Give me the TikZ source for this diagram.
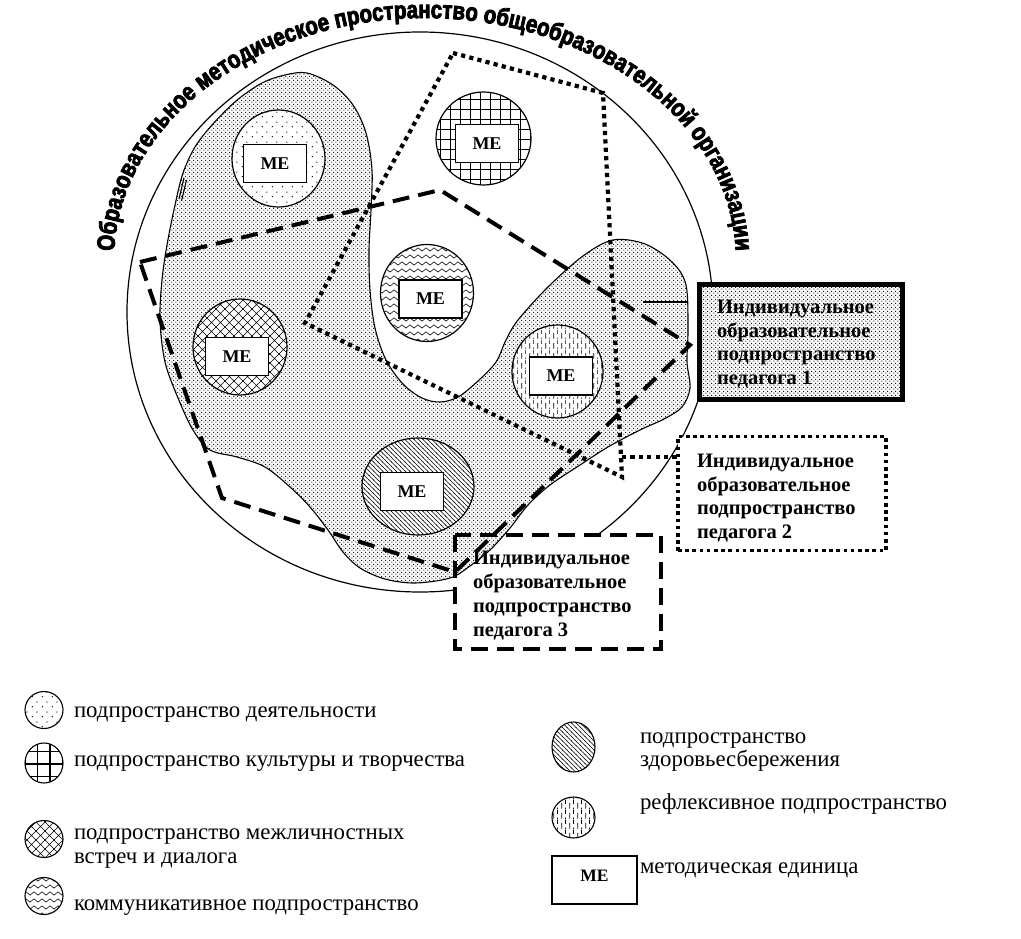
\documentclass[tikz,border=0pt]{standalone}
\usepackage{fontspec}
\setmainfont{Liberation Serif}
\newfontfamily\arcfont{Liberation Sans Bold}[FakeStretch=0.82,FakeBold=3.2]
\usetikzlibrary{patterns,shapes.geometric,decorations.text}

\pgfdeclarepatternformonly{blobdots}{\pgfqpoint{0pt}{0pt}}{\pgfqpoint{4.2pt}{4.2pt}}{\pgfqpoint{4.2pt}{4.2pt}}{%
  \pgfpathcircle{\pgfqpoint{1.05pt}{1.05pt}}{0.75pt}%
  \pgfpathcircle{\pgfqpoint{3.15pt}{3.15pt}}{0.75pt}%
  \pgfusepath{fill}}
\pgfdeclarepatternformonly{sparsedots}{\pgfqpoint{0pt}{0pt}}{\pgfqpoint{10pt}{10pt}}{\pgfqpoint{10pt}{10pt}}{%
  \pgfpathcircle{\pgfqpoint{2.5pt}{2.5pt}}{0.75pt}%
  \pgfpathcircle{\pgfqpoint{7.5pt}{7.5pt}}{0.75pt}%
  \pgfusepath{fill}}
\pgfdeclarepatternformonly{biggrid}{\pgfqpoint{-0.5pt}{-0.5pt}}{\pgfqpoint{10.5pt}{10.5pt}}{\pgfqpoint{10pt}{10pt}}{%
  \pgfsetlinewidth{0.7pt}%
  \pgfpathmoveto{\pgfqpoint{-0.5pt}{0pt}}\pgfpathlineto{\pgfqpoint{10.5pt}{0pt}}%
  \pgfpathmoveto{\pgfqpoint{0pt}{-0.5pt}}\pgfpathlineto{\pgfqpoint{0pt}{10.5pt}}%
  \pgfusepath{stroke}}
\pgfdeclarepatternformonly{legrid}{\pgfqpoint{-1pt}{-1pt}}{\pgfqpoint{13.5pt}{13.5pt}}{\pgfqpoint{12.5pt}{12.5pt}}{%
  \pgfsetlinewidth{1.1pt}%
  \pgfpathmoveto{\pgfqpoint{-1pt}{0pt}}\pgfpathlineto{\pgfqpoint{13.5pt}{0pt}}%
  \pgfpathmoveto{\pgfqpoint{0pt}{-1pt}}\pgfpathlineto{\pgfqpoint{0pt}{13.5pt}}%
  \pgfusepath{stroke}}
\pgfdeclarepatternformonly{xhatch}{\pgfqpoint{-0.5pt}{-0.5pt}}{\pgfqpoint{9.5pt}{9.5pt}}{\pgfqpoint{9pt}{9pt}}{%
  \pgfsetlinewidth{0.6pt}%
  \pgfpathmoveto{\pgfqpoint{-0.5pt}{-0.5pt}}\pgfpathlineto{\pgfqpoint{9.5pt}{9.5pt}}%
  \pgfpathmoveto{\pgfqpoint{-0.5pt}{9.5pt}}\pgfpathlineto{\pgfqpoint{9.5pt}{-0.5pt}}%
  \pgfusepath{stroke}}
\pgfdeclarepatternformonly{nwlines}{\pgfqpoint{-0.5pt}{-0.5pt}}{\pgfqpoint{5pt}{5pt}}{\pgfqpoint{4.5pt}{4.5pt}}{%
  \pgfsetlinewidth{0.55pt}%
  \pgfpathmoveto{\pgfqpoint{-0.5pt}{5pt}}\pgfpathlineto{\pgfqpoint{5pt}{-0.5pt}}%
  \pgfusepath{stroke}}
\pgfdeclarepatternformonly{vdashes}{\pgfqpoint{0pt}{0pt}}{\pgfqpoint{8pt}{10pt}}{\pgfqpoint{8pt}{10pt}}{%
  \pgfsetlinewidth{0.7pt}%
  \pgfpathmoveto{\pgfqpoint{2pt}{0.5pt}}\pgfpathlineto{\pgfqpoint{2pt}{6.5pt}}%
  \pgfpathmoveto{\pgfqpoint{6pt}{5.5pt}}\pgfpathlineto{\pgfqpoint{6pt}{10pt}}%
  \pgfpathmoveto{\pgfqpoint{6pt}{0pt}}\pgfpathlineto{\pgfqpoint{6pt}{1.5pt}}%
  \pgfusepath{stroke}}
\pgfdeclarepatternformonly{wavy}{\pgfqpoint{-0.5pt}{0pt}}{\pgfqpoint{8.5pt}{7pt}}{\pgfqpoint{8pt}{7pt}}{%
  \pgfsetlinewidth{0.6pt}%
  \pgfpathmoveto{\pgfqpoint{0pt}{3.5pt}}%
  \pgfpathcurveto{\pgfqpoint{1pt}{5.6pt}}{\pgfqpoint{3pt}{5.6pt}}{\pgfqpoint{4pt}{3.5pt}}%
  \pgfpathcurveto{\pgfqpoint{5pt}{1.4pt}}{\pgfqpoint{7pt}{1.4pt}}{\pgfqpoint{8pt}{3.5pt}}%
  \pgfusepath{stroke}}

\begin{document}
\begin{tikzpicture}[x=1pt,y=-1pt,
  every node/.style={inner sep=0pt, outer sep=0pt},
  bigoval/.style={ellipse, draw, line width=1.2pt, minimum width=586pt, minimum height=560pt},
  sub/.style={ellipse, draw, line width=1.2pt, preaction={fill=white}},
  mebox/.style={rectangle, draw, line width=1.2pt, fill=white, minimum width=63pt, minimum height=38pt, font=\bfseries\fontsize{18}{18}\selectfont},
  dashline/.style={line width=4pt, dash pattern=on 17pt off 9pt},
  dotline/.style={line width=4.2pt, dash pattern=on 4.2pt off 4.2pt},
  boxtxt/.style={anchor=base west, font=\bfseries\fontsize{20.5}{20.5}\selectfont},
  legtxt/.style={anchor=base west, font=\fontsize{22.8}{22.8}\selectfont},
  legcirc/.style={ellipse, draw, line width=1.1pt, minimum width=38pt, minimum height=37pt, preaction={fill=white}},
]
\useasboundingbox (0,0) rectangle (1021,939);
\fill[white] (0,0) rectangle (1021,939);

% outer space
\node[bigoval] (org) at (420,312) {};
\node[fill=white, minimum width=206pt, minimum height=114pt] (b3) at (558,592) {};

% shaded subspace of teacher 1
\draw[line width=1.1pt, pattern=blobdots] plot[smooth cycle, tension=0.55] coordinates {
 (307,73) (333,85) (353,105) (366,133) (372,170) (371,210) (369,250) (370,290)
 (375,328) (386,360) (403,384) (422,398) (440,402) (458,397) (478,381) (496,362)
 (506,340) (518,320) (548,287) (583,256) (613,240) (645,244) (672,262) (686,285)
 (688,330) (687,362) (690,388) (682,407) (664,419) (640,430) (608,447) (580,465)
 (550,485) (528,505) (510,528) (490,550) (470,566) (450,578) (415,583) (385,579)
 (360,568) (343,552) (328,530) (310,507) (290,487) (265,467) (237,457) (210,450)
 (193,430) (178,398) (165,362) (160,320) (162,280) (167,245) (175,205) (183,173)
 (195,147) (212,125) (236,101) (262,83) (285,75)};
\draw[line width=1.1pt] (184,178) -- (179,199) (186.5,180) -- (181.5,201);

% subspaces
\node[sub, pattern=sparsedots, minimum width=93pt, minimum height=97pt] (cA) at (278.5,158.5) {};
\node[sub, pattern=biggrid, minimum width=95pt, minimum height=93pt] (cB) at (483.5,138.5) {};
\node[sub, pattern=wavy, minimum width=93pt, minimum height=97pt] (cC) at (427,293) {};
\node[sub, pattern=xhatch, minimum width=94pt, minimum height=96pt] (cD) at (240,347) {};
\node[sub, pattern=nwlines, minimum width=112pt, minimum height=97pt] (cE) at (418,486.5) {};
\node[sub, pattern=vdashes, minimum width=91pt, minimum height=93pt] (cF) at (557.5,371.5) {};

\node[mebox] (mA) at (275,163.5) {МЕ};
\node[mebox] (mB) at (487,143.5) {МЕ};
\node[mebox] (mC) at (430.5,299) {МЕ};
\node[mebox] (mD) at (237,356.5) {МЕ};
\node[mebox] (mE) at (412,491.5) {МЕ};
\node[mebox] (mF) at (561,376) {МЕ};

% teacher 3 (dashed)
\coordinate (d1) at (140,262);
\coordinate (d2) at (440,190);
\coordinate (d3) at (690,345);
\coordinate (d4) at (455,572);
\coordinate (d5) at (222,498);
\draw[dashline] (d1) -- (d2) -- (d3) -- (d4) -- (d5) -- cycle;

% teacher 2 (dotted)
\coordinate (t1) at (453,53);
\coordinate (t2) at (603,93);
\coordinate (t3) at (622,477);
\coordinate (t4) at (305,323);
\draw[dotline] (t1) -- (t2) -- (t3) -- (t4) -- cycle;

% boxes
\node[draw, line width=4.5pt, preaction={fill=white}, pattern=blobdots, minimum width=203pt, minimum height=115pt] (b1) at (801,342) {};
\node[draw, line width=3.6pt, dash pattern=on 3.6pt off 3.6pt, fill=white, minimum width=208pt, minimum height=114pt] (b2) at (782,493.5) {};
\draw[dashline] (b3.north west) rectangle (b3.south east);

% leaders
\coordinate (l1) at (643,302);
\coordinate (l1e) at (688,302);
\draw[line width=2.8pt] (l1) -- (l1e);
\coordinate (p2c) at (622,457);
\draw[dotline] (p2c) -- (p2c -| b2.west);

% box texts
\node[boxtxt] (b1a) at (717,313.5) {Индивидуальное};
\node[boxtxt] (b1b) at (717,337) {образовательное};
\node[boxtxt] (b1c) at (717,360.5) {подпространство};
\node[boxtxt] (b1d) at (717,384) {педагога 1};
\node[boxtxt] (b2a) at (697,467.5) {Индивидуальное};
\node[boxtxt] (b2b) at (697,491) {образовательное};
\node[boxtxt] (b2c) at (697,514.5) {подпространство};
\node[boxtxt] (b2d) at (697,538) {педагога 2};
\node[boxtxt] (b3a) at (473,564) {Индивидуальное};
\node[boxtxt] (b3b) at (473,588) {образовательное};
\node[boxtxt] (b3c) at (473,612) {подпространство};
\node[boxtxt] (b3d) at (473,636) {педагога 3};

% arc title
\path[decorate, decoration={text along path, text align=center,
  text={|\arcfont\fontsize{25}{25}\selectfont|Образовательное методическое пространство общеобразовательной организации}}]
  plot[domain=180.5:359.5, samples=100] ({425+311*cos(\x)}, {260+242*sin(\x)});

% legend
\node[legcirc, pattern=sparsedots] (lc1) at (44,710) {};
\node[legtxt] (lt1) at (74,717) {подпространство деятельности};
\node[legcirc, pattern=legrid, minimum height=40pt] (lc2) at (44,763) {};
\node[legtxt] (lt2) at (74,766) {подпространство культуры и творчества};
\node[legcirc, pattern=xhatch] (lc3) at (44,839) {};
\node[legtxt] (lt3a) at (74,839) {подпространство межличностных};
\node[legtxt] (lt3b) at (74,863) {встреч и диалога};
\node[legcirc, pattern=wavy] (lc4) at (44,896) {};
\node[legtxt] (lt4) at (74,910) {коммуникативное подпространство};
\node[legcirc, pattern=nwlines, minimum width=43pt, minimum height=50pt] (lc5) at (573.5,747) {};
\node[legtxt] (lt5a) at (640,743) {подпространство};
\node[legtxt] (lt5b) at (640,766) {здоровьесбережения};
\node[legcirc, pattern=vdashes, minimum width=43pt, minimum height=41pt] (lc6) at (573.5,817.5) {};
\node[legtxt] (lt6) at (640,809) {рефлексивное подпространство};
\node[draw, line width=1.2pt, minimum width=85pt, minimum height=48pt] (lme) at (594.5,880) {};
\node[font=\bfseries\fontsize{17.5}{17.5}\selectfont, anchor=base] (lmet) at (594.5,881) {МЕ};
\node[legtxt] (lt7) at (640,873) {методическая единица};
\end{tikzpicture}
\end{document}
